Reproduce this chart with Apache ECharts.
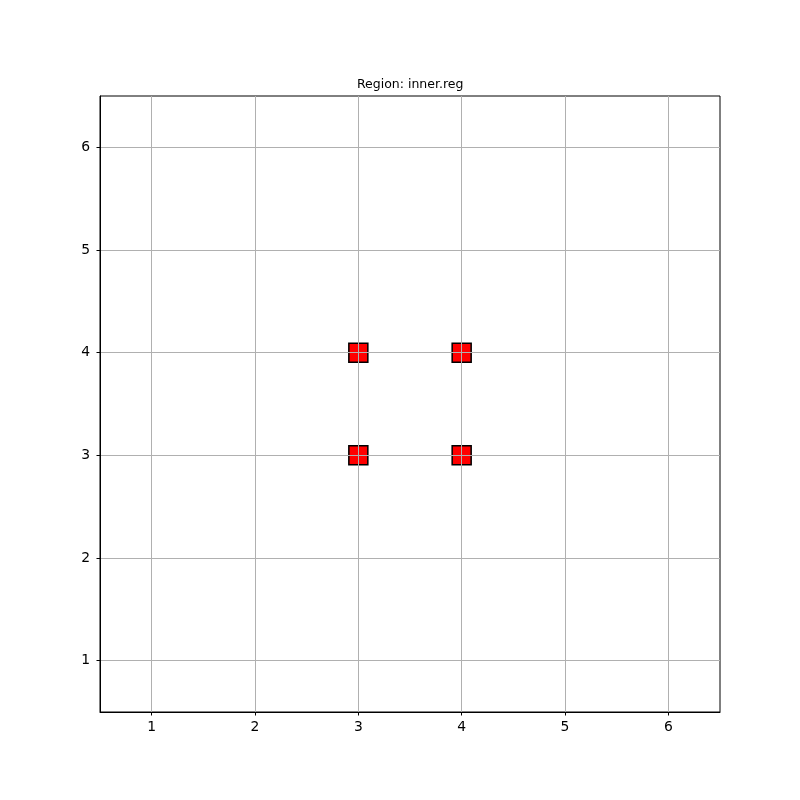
<!DOCTYPE html>
<html><head><meta charset="utf-8">
<script src="https://cdn.jsdelivr.net/npm/echarts@6/dist/echarts.min.js"></script>
<style>html,body{margin:0;padding:0;background:#fff}#c{width:800px;height:800px}</style>
</head><body><div id="c"></div>
<script>
const titleText = "Region: inner.reg";
const xValues = [3, 4, 3, 4];
const yValues = [4, 4, 3, 3];
const xTicks = [1, 2, 3, 4, 5, 6];
const yTicks = [1, 2, 3, 4, 5, 6];

const chart = echarts.init(document.getElementById('c'), null, {renderer: 'canvas'});
const font = 'DejaVu Sans';
function axis(ticks, margin) {
  return {
    type: 'value', min: 0.5, max: 6.5,
    axisLine: {show: true, onZero: false, lineStyle: {color: '#000', width: 1}},
    axisTick: {show: true, length: 3.5, customValues: ticks, lineStyle: {color: '#000', width: 1}},
    axisLabel: {customValues: ticks, color: '#000', fontFamily: font, fontSize: 13.9, margin: margin},
    splitLine: {show: true, lineStyle: {color: '#b0b0b0', width: 1}}
  };
}
chart.setOption({
  animation: false,
  title: {text: titleText, left: 357, top: 78, padding: 0,
    textStyle: {fontFamily: font, fontSize: 12.5, fontWeight: 'normal', color: '#000'}},
  grid: {left: 100, right: 80, top: 96, bottom: 88, show: true, borderColor: '#000', borderWidth: 1, backgroundColor: 'transparent'},
  xAxis: axis(xTicks, 8),
  yAxis: axis(yTicks, 10),
  series: [{
    type: 'scatter', z: -1,
    symbol: 'rect', symbolSize: 19,
    itemStyle: {color: '#ff0000', borderColor: '#000', borderWidth: 1.5, opacity: 1},
    data: xValues.map((x, i) => [x, yValues[i]])
  }]
});
</script></body></html>
